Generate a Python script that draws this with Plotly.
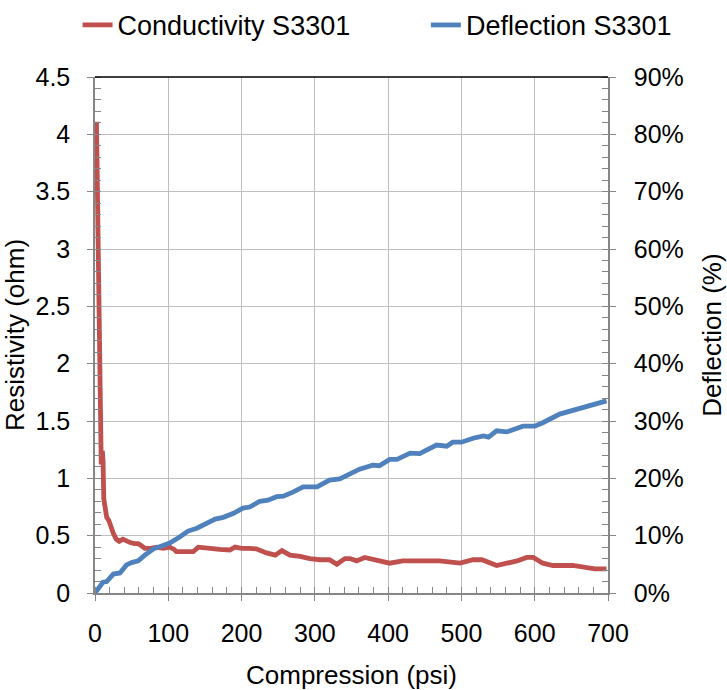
import plotly.graph_objects as go

# Conductivity (resistivity, ohm) vs compression (psi)
psi_cond = [2, 3, 4, 5, 6, 7, 7.5, 8.5, 10, 11, 12, 14, 16, 19, 22, 25, 29, 33, 38, 43,
            48, 54, 59, 64, 68, 76, 84, 93, 102, 108, 111, 122, 134, 141, 150, 157, 170,
            184, 191, 200, 211, 220, 234, 246, 255, 266, 280, 293, 307, 320, 330, 341,
            348, 357, 368, 384, 402, 420, 443, 457, 470, 498, 516, 528, 548, 562, 576,
            589, 598, 611, 625, 652, 666, 682, 698]
resistivity = [4.11, 3.6, 3.05, 2.55, 2.0, 1.45, 1.15, 1.12, 1.24, 1.15, 0.82, 0.72, 0.66,
               0.63, 0.57, 0.52, 0.47, 0.45, 0.47, 0.45, 0.44, 0.43, 0.43, 0.41, 0.39,
               0.39, 0.40, 0.39, 0.40, 0.38, 0.36, 0.36, 0.36, 0.40, 0.39, 0.39, 0.38,
               0.375, 0.40, 0.39, 0.39, 0.385, 0.35, 0.33, 0.37, 0.33, 0.32, 0.30, 0.29,
               0.29, 0.25, 0.30, 0.30, 0.28, 0.31, 0.29, 0.26, 0.28, 0.28, 0.29, 0.28,
               0.26, 0.29, 0.29, 0.24, 0.26, 0.28, 0.31, 0.31, 0.26, 0.24, 0.24, 0.23,
               0.21, 0.21]

# Deflection (fraction) vs compression (psi)
psi_defl = [0, 5, 11, 16, 25, 34, 43, 50, 59, 68, 80, 91, 102, 116, 127, 139, 152, 164,
            175, 189, 202, 211, 225, 236, 248, 257, 270, 284, 303, 320, 334, 345, 361,
            379, 388, 402, 412, 430, 443, 466, 480, 488, 500, 516, 530, 537, 548, 562,
            584, 600, 611, 634, 652, 666, 685, 698]
deflection = [0.0, 0.008, 0.019, 0.020, 0.033, 0.035, 0.049, 0.053, 0.056, 0.066, 0.077,
              0.082, 0.087, 0.098, 0.108, 0.113, 0.122, 0.129, 0.132, 0.139, 0.148, 0.150,
              0.160, 0.162, 0.168, 0.169, 0.176, 0.185, 0.185, 0.197, 0.199, 0.206, 0.216,
              0.223, 0.222, 0.233, 0.233, 0.244, 0.243, 0.258, 0.256, 0.263, 0.263, 0.270,
              0.274, 0.272, 0.283, 0.281, 0.291, 0.291, 0.297, 0.312, 0.319, 0.323, 0.330,
              0.335]

FONT = "Liberation Sans, Arial, sans-serif"
AXIS_GRAY = "#868686"
GRID = "#BFBFBF"

fig = go.Figure()
fig.add_trace(go.Scatter(x=psi_cond, y=resistivity, mode="lines", name="Conductivity S3301",
                         line=dict(color="#C0504D", width=4.8), yaxis="y", legend="legend"))
fig.add_trace(go.Scatter(x=psi_defl, y=deflection, mode="lines", name="Deflection S3301",
                         line=dict(color="#4F81BD", width=4.8), yaxis="y2", legend="legend2"))

leg_common = dict(orientation="h", xanchor="left", yanchor="middle",
                  font=dict(size=27), bgcolor="rgba(0,0,0,0)")

fig.update_layout(
    width=727, height=690,
    margin=dict(l=95, r=119, t=77, b=97, autoexpand=False),
    paper_bgcolor="white", plot_bgcolor="white",
    font=dict(family=FONT, size=25, color="black"),
    showlegend=True,
    legend=dict(x=-0.034, y=1.10, **leg_common),
    legend2=dict(x=0.645, y=1.10, **leg_common),
    xaxis=dict(range=[0, 700], dtick=100, tick0=0, showgrid=True, gridcolor=GRID, gridwidth=1.3,
               showline=True, linecolor=AXIS_GRAY, linewidth=1.5, zeroline=False, automargin=False,
               ticks="outside", ticklen=6, tickcolor=AXIS_GRAY, ticklabelstandoff=11,
               minor=dict(dtick=20, ticks="inside", ticklen=6, tickcolor=AXIS_GRAY, showgrid=False),
               title=dict(text="Compression (psi)", standoff=22, font=dict(size=26))),
    yaxis=dict(range=[0, 4.5], dtick=0.5, tick0=0, showgrid=True, gridcolor=GRID, gridwidth=1.3,
               showline=True, linecolor=AXIS_GRAY, linewidth=1.5, zeroline=False, automargin=False,
               ticks="outside", ticklen=6, tickcolor=AXIS_GRAY, ticklabelstandoff=12,
               minor=dict(dtick=0.1, ticks="inside", ticklen=6, tickcolor=AXIS_GRAY, showgrid=False),
               title=dict(text="Resistivity (ohm)", standoff=7, font=dict(size=26))),
    yaxis2=dict(range=[0, 0.9], dtick=0.1, tick0=0, overlaying="y", side="right",
                tickformat=".0%", showgrid=False, showline=True, linecolor=AXIS_GRAY,
                linewidth=1.5, zeroline=False, automargin=False, ticks="outside", ticklen=6,
                tickcolor=AXIS_GRAY, ticklabelstandoff=13,
                minor=dict(dtick=0.02, ticks="inside", ticklen=6, tickcolor=AXIS_GRAY, showgrid=False),
                title=dict(text="Deflection (%)", standoff=20, font=dict(size=26))),
    shapes=[dict(type="line", xref="paper", yref="paper", x0=0, x1=1, y0=1, y1=1,
                 line=dict(color="black", width=1.6))],
)

fig.write_html("out.html", config={"displayModeBar": False},
               post_script="document.body.style.margin='0';document.body.style.overflow='hidden';")
